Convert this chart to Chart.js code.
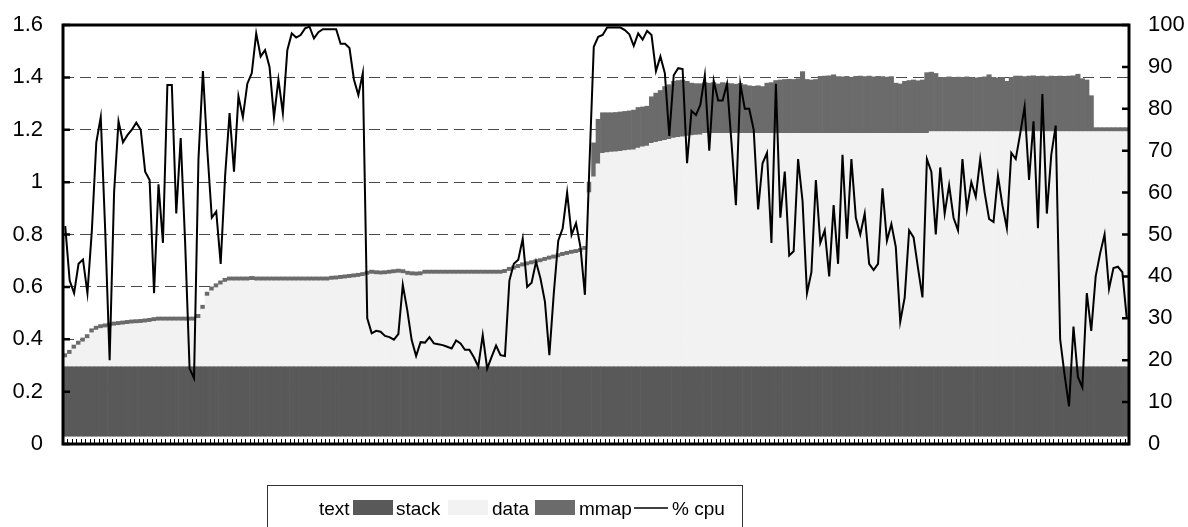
<!DOCTYPE html>
<html>
<head>
<meta charset="utf-8">
<script src="https://cdn.jsdelivr.net/npm/chart.js@4.4.1/dist/chart.umd.min.js"></script>
<style>
    html, body { margin: 0; padding: 0; background: #fff; }
    #wrap { width: 1188px; height: 527px; }
</style>
</head>
<body>
<div id="wrap"><canvas id="memChart" width="1188" height="527"></canvas></div>
<script>
// memory use (MB) per sample, stacked bottom to top
const textMB = [
    0.027, 0.027, 0.027, 0.027, 0.027, 0.027, 0.027, 0.027, 0.027, 0.027, 0.027, 0.027, 0.027, 0.027, 0.027, 0.027, 0.027, 0.027, 0.027, 0.027,
    0.027, 0.027, 0.027, 0.027, 0.027, 0.027, 0.027, 0.027, 0.027, 0.027, 0.027, 0.027, 0.027, 0.027, 0.027, 0.027, 0.027, 0.027, 0.027, 0.027,
    0.027, 0.027, 0.027, 0.027, 0.027, 0.027, 0.027, 0.027, 0.027, 0.027, 0.027, 0.027, 0.027, 0.027, 0.027, 0.027, 0.027, 0.027, 0.027, 0.027,
    0.027, 0.027, 0.027, 0.027, 0.027, 0.027, 0.027, 0.027, 0.027, 0.027, 0.027, 0.027, 0.027, 0.027, 0.027, 0.027, 0.027, 0.027, 0.027, 0.027,
    0.027, 0.027, 0.027, 0.027, 0.027, 0.027, 0.027, 0.027, 0.027, 0.027, 0.027, 0.027, 0.027, 0.027, 0.027, 0.027, 0.027, 0.027, 0.027, 0.027,
    0.027, 0.027, 0.027, 0.027, 0.027, 0.027, 0.027, 0.027, 0.027, 0.027, 0.027, 0.027, 0.027, 0.027, 0.027, 0.027, 0.027, 0.027, 0.027, 0.027,
    0.027, 0.027, 0.027, 0.027, 0.027, 0.027, 0.027, 0.027, 0.027, 0.027, 0.027, 0.027, 0.027, 0.027, 0.027, 0.027, 0.027, 0.027, 0.027, 0.027,
    0.027, 0.027, 0.027, 0.027, 0.027, 0.027, 0.027, 0.027, 0.027, 0.027, 0.027, 0.027, 0.027, 0.027, 0.027, 0.027, 0.027, 0.027, 0.027, 0.027,
    0.027, 0.027, 0.027, 0.027, 0.027, 0.027, 0.027, 0.027, 0.027, 0.027, 0.027, 0.027, 0.027, 0.027, 0.027, 0.027, 0.027, 0.027, 0.027, 0.027,
    0.027, 0.027, 0.027, 0.027, 0.027, 0.027, 0.027, 0.027, 0.027, 0.027, 0.027, 0.027, 0.027, 0.027, 0.027, 0.027, 0.027, 0.027, 0.027, 0.027,
    0.027, 0.027, 0.027, 0.027, 0.027, 0.027, 0.027, 0.027, 0.027, 0.027, 0.027, 0.027, 0.027, 0.027, 0.027, 0.027, 0.027, 0.027, 0.027, 0.027,
    0.027, 0.027, 0.027, 0.027, 0.027, 0.027, 0.027, 0.027, 0.027, 0.027, 0.027, 0.027, 0.027, 0.027, 0.027, 0.027, 0.027, 0.027, 0.027, 0.027,
];

const stackMB = [
    0.268, 0.268, 0.268, 0.268, 0.268, 0.268, 0.268, 0.268, 0.268, 0.268, 0.268, 0.268, 0.268, 0.268, 0.268, 0.268, 0.268, 0.268, 0.268, 0.268,
    0.268, 0.268, 0.268, 0.268, 0.268, 0.268, 0.268, 0.268, 0.268, 0.268, 0.268, 0.268, 0.268, 0.268, 0.268, 0.268, 0.268, 0.268, 0.268, 0.268,
    0.268, 0.268, 0.268, 0.268, 0.268, 0.268, 0.268, 0.268, 0.268, 0.268, 0.268, 0.268, 0.268, 0.268, 0.268, 0.268, 0.268, 0.268, 0.268, 0.268,
    0.268, 0.268, 0.268, 0.268, 0.268, 0.268, 0.268, 0.268, 0.268, 0.268, 0.268, 0.268, 0.268, 0.268, 0.268, 0.268, 0.268, 0.268, 0.268, 0.268,
    0.268, 0.268, 0.268, 0.268, 0.268, 0.268, 0.268, 0.268, 0.268, 0.268, 0.268, 0.268, 0.268, 0.268, 0.268, 0.268, 0.268, 0.268, 0.268, 0.268,
    0.268, 0.268, 0.268, 0.268, 0.268, 0.268, 0.268, 0.268, 0.268, 0.268, 0.268, 0.268, 0.268, 0.268, 0.268, 0.268, 0.268, 0.268, 0.268, 0.268,
    0.268, 0.268, 0.268, 0.268, 0.268, 0.268, 0.268, 0.268, 0.268, 0.268, 0.268, 0.268, 0.268, 0.268, 0.268, 0.268, 0.268, 0.268, 0.268, 0.268,
    0.268, 0.268, 0.268, 0.268, 0.268, 0.268, 0.268, 0.268, 0.268, 0.268, 0.268, 0.268, 0.268, 0.268, 0.268, 0.268, 0.268, 0.268, 0.268, 0.268,
    0.268, 0.268, 0.268, 0.268, 0.268, 0.268, 0.268, 0.268, 0.268, 0.268, 0.268, 0.268, 0.268, 0.268, 0.268, 0.268, 0.268, 0.268, 0.268, 0.268,
    0.268, 0.268, 0.268, 0.268, 0.268, 0.268, 0.268, 0.268, 0.268, 0.268, 0.268, 0.268, 0.268, 0.268, 0.268, 0.268, 0.268, 0.268, 0.268, 0.268,
    0.268, 0.268, 0.268, 0.268, 0.268, 0.268, 0.268, 0.268, 0.268, 0.268, 0.268, 0.268, 0.268, 0.268, 0.268, 0.268, 0.268, 0.268, 0.268, 0.268,
    0.268, 0.268, 0.268, 0.268, 0.268, 0.268, 0.268, 0.268, 0.268, 0.268, 0.268, 0.268, 0.268, 0.268, 0.268, 0.268, 0.268, 0.268, 0.268, 0.268,
];

const dataMB = [
    0.035, 0.048, 0.068, 0.083, 0.095, 0.108, 0.130, 0.140, 0.146, 0.149, 0.152, 0.156, 0.158, 0.160, 0.162, 0.164, 0.165, 0.166, 0.168, 0.170,
    0.173, 0.175, 0.175, 0.175, 0.175, 0.175, 0.175, 0.175, 0.175, 0.175, 0.185, 0.220, 0.270, 0.290, 0.302, 0.313, 0.323, 0.328, 0.328, 0.328,
    0.328, 0.328, 0.330, 0.328, 0.328, 0.328, 0.328, 0.328, 0.328, 0.328, 0.328, 0.328, 0.328, 0.328, 0.328, 0.328, 0.328, 0.328, 0.328, 0.328,
    0.331, 0.332, 0.334, 0.336, 0.338, 0.340, 0.342, 0.345, 0.350, 0.354, 0.352, 0.351, 0.352, 0.354, 0.356, 0.358, 0.356, 0.350, 0.348, 0.347,
    0.348, 0.354, 0.354, 0.354, 0.354, 0.354, 0.354, 0.354, 0.354, 0.354, 0.354, 0.354, 0.354, 0.354, 0.354, 0.354, 0.354, 0.354, 0.354, 0.357,
    0.365, 0.370, 0.376, 0.382, 0.386, 0.390, 0.394, 0.398, 0.403, 0.408, 0.412, 0.417, 0.422, 0.426, 0.430, 0.433, 0.437, 0.445, 0.665, 0.725,
    0.775, 0.815, 0.818, 0.820, 0.821, 0.823, 0.825, 0.827, 0.828, 0.835, 0.840, 0.843, 0.853, 0.857, 0.861, 0.865, 0.868, 0.873, 0.876, 0.878,
    0.881, 0.883, 0.885, 0.886, 0.891, 0.891, 0.891, 0.891, 0.891, 0.891, 0.891, 0.891, 0.891, 0.891, 0.891, 0.891, 0.891, 0.891, 0.891, 0.891,
    0.891, 0.891, 0.891, 0.891, 0.891, 0.891, 0.891, 0.891, 0.891, 0.891, 0.891, 0.891, 0.891, 0.891, 0.891, 0.891, 0.891, 0.891, 0.891, 0.891,
    0.891, 0.891, 0.891, 0.891, 0.891, 0.891, 0.891, 0.891, 0.891, 0.891, 0.891, 0.891, 0.891, 0.891, 0.891, 0.898, 0.898, 0.898, 0.898, 0.898,
    0.898, 0.898, 0.898, 0.898, 0.898, 0.898, 0.898, 0.898, 0.898, 0.898, 0.898, 0.898, 0.898, 0.898, 0.898, 0.898, 0.898, 0.898, 0.898, 0.898,
    0.898, 0.898, 0.898, 0.898, 0.898, 0.898, 0.898, 0.898, 0.898, 0.898, 0.898, 0.898, 0.898, 0.898, 0.898, 0.898, 0.898, 0.898, 0.898, 0.898,
];

const mmapMB = [
    0.015, 0.015, 0.015, 0.015, 0.015, 0.015, 0.015, 0.015, 0.015, 0.015, 0.015, 0.015, 0.015, 0.015, 0.015, 0.015, 0.015, 0.015, 0.015, 0.015,
    0.015, 0.015, 0.015, 0.015, 0.015, 0.015, 0.015, 0.015, 0.015, 0.015, 0.015, 0.015, 0.015, 0.015, 0.015, 0.015, 0.015, 0.015, 0.015, 0.015,
    0.015, 0.015, 0.015, 0.015, 0.015, 0.015, 0.015, 0.015, 0.015, 0.015, 0.015, 0.015, 0.015, 0.015, 0.015, 0.015, 0.015, 0.015, 0.015, 0.015,
    0.015, 0.015, 0.015, 0.015, 0.015, 0.015, 0.015, 0.015, 0.015, 0.015, 0.015, 0.015, 0.015, 0.015, 0.015, 0.015, 0.015, 0.015, 0.015, 0.015,
    0.015, 0.015, 0.015, 0.015, 0.015, 0.015, 0.015, 0.015, 0.015, 0.015, 0.015, 0.015, 0.015, 0.015, 0.015, 0.015, 0.015, 0.015, 0.015, 0.015,
    0.015, 0.015, 0.015, 0.015, 0.015, 0.015, 0.015, 0.015, 0.015, 0.015, 0.015, 0.015, 0.015, 0.015, 0.015, 0.015, 0.015, 0.015, 0.040, 0.130,
    0.170, 0.155, 0.152, 0.150, 0.150, 0.150, 0.150, 0.150, 0.152, 0.155, 0.152, 0.152, 0.178, 0.188, 0.194, 0.205, 0.209, 0.217, 0.217, 0.217,
    0.209, 0.200, 0.196, 0.195, 0.194, 0.192, 0.194, 0.189, 0.194, 0.192, 0.190, 0.188, 0.191, 0.186, 0.182, 0.180, 0.182, 0.179, 0.192, 0.194,
    0.202, 0.204, 0.206, 0.207, 0.206, 0.209, 0.236, 0.206, 0.204, 0.206, 0.218, 0.219, 0.220, 0.224, 0.217, 0.216, 0.218, 0.214, 0.218, 0.219,
    0.217, 0.219, 0.216, 0.218, 0.217, 0.215, 0.217, 0.192, 0.189, 0.199, 0.202, 0.204, 0.201, 0.204, 0.232, 0.227, 0.222, 0.207, 0.207, 0.209,
    0.207, 0.208, 0.207, 0.209, 0.207, 0.205, 0.207, 0.209, 0.217, 0.207, 0.205, 0.207, 0.192, 0.207, 0.212, 0.212, 0.210, 0.212, 0.213, 0.211,
    0.212, 0.210, 0.212, 0.211, 0.212, 0.211, 0.212, 0.213, 0.219, 0.202, 0.197, 0.137, 0.015, 0.015, 0.015, 0.015, 0.015, 0.015, 0.015, 0.015,
];

// % cpu per sample (right axis)
const cpu = [
    52, 39, 36, 43, 44, 36, 51, 72, 78, 51, 20, 60, 77, 72, 73.7, 75, 76.7, 75, 65, 63,
    36, 62, 48, 85.7, 85.7, 55, 73, 48, 18, 15.7, 68, 89, 70, 54, 55.5, 43, 64, 79, 65, 83,
    78, 86, 88.5, 98, 92.5, 94, 90, 78, 87, 79, 94, 98, 97, 97.6, 99.2, 99.6, 96.8, 98.3, 99, 99,
    99, 99, 95.5, 95.5, 94.5, 87, 83.3, 88.5, 30, 26.4, 27, 26.8, 25.8, 25.5, 24.9, 26.2, 38, 32, 24.8, 21,
    24.3, 24.2, 25.5, 24, 23.8, 23.6, 23.2, 22.8, 24.7, 24, 22.5, 22.5, 20.7, 18.5, 26, 18, 20.8, 23.5, 21.2, 21,
    39, 43, 44, 49, 37.5, 38.5, 43.5, 39.5, 34, 21.2, 36, 48.5, 51.5, 60, 49.9, 52.7, 47, 35.6, 66, 94.8,
    97.2, 97.6, 99.4, 99.4, 99.4, 99.4, 98.8, 97.8, 95, 98, 96.5, 98.6, 97.6, 89, 92.5, 88.5, 73.5, 88, 89.7, 89.5,
    67, 79.5, 78.5, 81, 88, 70, 86.7, 82, 82, 86, 72, 57, 86, 80, 80, 75, 56, 67, 69.5, 48,
    86, 54, 65, 45, 46, 68, 58, 36, 41, 63, 48, 51, 40, 57, 43, 69, 49, 68, 54, 50,
    55, 43, 41.5, 43, 61, 48.5, 52.5, 47, 29.2, 35, 51, 49.3, 42, 35, 68, 65, 50, 66, 55, 61.8,
    54, 51, 68, 56, 62.5, 59, 68, 60, 53.7, 53, 64, 57, 51.5, 69.5, 68, 74, 80.5, 63, 77, 51.5,
    83.5, 55, 69, 76, 25, 16.5, 9, 28, 16, 13.5, 36, 27, 40, 45.5, 50, 37, 42, 42.3, 41, 30,
];

const samples = cpu.map((_, i) => String(i + 1));
const memTicks = [0, 0.2, 0.4, 0.6, 0.8, 1, 1.2, 1.4, 1.6];
const cpuTicks = [0, 10, 20, 30, 40, 50, 60, 70, 80, 90, 100];

const FONT = "'Liberation Sans', Arial, Helvetica, sans-serif";

// legend slots taken from the original layout: swatch x, label x
const legendSlots = [
    { sw: 275, lx: 319 },
    { sw: 353, lx: 396 },
    { sw: 448, lx: 492 },
    { sw: 535, lx: 579 },
    { sw: 634, lx: 672 },
];

const framePlugin = {
    id: "frame",
    afterDatasetsDraw(chart) {
        const { ctx, chartArea: a, scales } = chart;
        ctx.save();
        ctx.strokeStyle = "#000";

        // small inward ticks between categories
        const x = scales.x;
        const step = x.getPixelForValue(1) - x.getPixelForValue(0);
        ctx.lineWidth = 1;
        ctx.beginPath();
        for (let i = 0; i <= samples.length; i++) {
            const px = Math.round(x.getPixelForValue(0) - step / 2 + i * step) + 0.5;
            ctx.moveTo(px, a.bottom);
            ctx.lineTo(px, a.bottom - 5);
        }
        ctx.stroke();

        ctx.lineWidth = 2.5;
        ctx.beginPath();
        memTicks.forEach((v) => {
            const py = scales.y.getPixelForValue(v);
            ctx.moveTo(a.left, py);
            ctx.lineTo(a.left + 7, py);
        });
        cpuTicks.forEach((v) => {
            const py = scales.y1.getPixelForValue(v);
            ctx.moveTo(a.right - 7, py);
            ctx.lineTo(a.right, py);
        });
        ctx.stroke();

        ctx.lineWidth = 3;
        ctx.strokeRect(a.left, a.top, a.right - a.left, a.bottom - a.top);
        ctx.restore();
    },
};

const legendPlugin = {
    id: "boxLegend",
    afterDraw(chart) {
        const { ctx } = chart;
        ctx.save();
        ctx.strokeStyle = "#333";
        ctx.lineWidth = 1;
        ctx.strokeRect(267.5, 485.5, 475, 80);

        ctx.font = "19px " + FONT;
        ctx.textBaseline = "alphabetic";
        chart.data.datasets.forEach((ds, i) => {
            const slot = legendSlots[i];
            if (ds.type === "line") {
                ctx.strokeStyle = ds.borderColor;
                ctx.lineWidth = 1.5;
                ctx.beginPath();
                ctx.moveTo(slot.sw, 508);
                ctx.lineTo(slot.sw + 34, 508);
                ctx.stroke();
            } else {
                ctx.fillStyle = ds.backgroundColor;
                ctx.fillRect(slot.sw, 500, 40, 15);
            }
            ctx.fillStyle = "#000";
            ctx.fillText(ds.label, slot.lx, 515);
        });
        ctx.restore();
    },
};

const barDefaults = {
    type: "bar",
    yAxisID: "y",
    borderWidth: 0,
    barPercentage: 1,
    categoryPercentage: 1,
    order: 1,
};

// keep the plot box where the original has it
const noPad = (w) => (s) => {
    s.width = w;
    s.paddingTop = 0;
    s.paddingBottom = 0;
};

const ctx = document.getElementById("memChart").getContext("2d");
new Chart(ctx, {
    data: {
        labels: samples,
        datasets: [
            { ...barDefaults, label: "text", data: textMB, backgroundColor: "#ffffff" },
            { ...barDefaults, label: "stack", data: stackMB, backgroundColor: "#595959" },
            { ...barDefaults, label: "data", data: dataMB, backgroundColor: "#f2f2f2" },
            { ...barDefaults, label: "mmap", data: mmapMB, backgroundColor: "#6b6b6b" },
            {
                type: "line",
                label: "% cpu",
                data: cpu,
                yAxisID: "y1",
                borderColor: "#000000",
                borderWidth: 2,
                pointRadius: 0,
                tension: 0,
                fill: false,
                order: 0,
            },
        ],
    },
    options: {
        responsive: false,
        animation: false,
        devicePixelRatio: 1,
        layout: { padding: { top: 25, left: 0, right: 0, bottom: 0 } },
        plugins: {
            legend: { display: false },
            tooltip: { enabled: false },
        },
        scales: {
            x: {
                type: "category",
                stacked: true,
                offset: true,
                grid: { display: false, drawTicks: false },
                border: { display: false },
                ticks: { display: false },
                afterFit: (s) => {
                    s.height = 83;
                    s.paddingLeft = 0;
                    s.paddingRight = 0;
                },
            },
            y: {
                position: "left",
                stacked: true,
                min: 0,
                max: 1.6,
                afterBuildTicks: (s) => { s.ticks = memTicks.map((v) => ({ value: v })); },
                ticks: {
                    padding: 20,
                    color: "#000",
                    font: { family: FONT, size: 22 },
                    callback: (v) => String(parseFloat(Number(v).toFixed(1))),
                },
                grid: { color: "#4a4a4a", lineWidth: 1, drawTicks: false },
                border: { display: false, dash: [11, 6] },
                afterFit: noPad(63),
            },
            y1: {
                position: "right",
                min: 0,
                max: 100,
                afterBuildTicks: (s) => { s.ticks = cpuTicks.map((v) => ({ value: v })); },
                ticks: {
                    padding: 19,
                    color: "#000",
                    font: { family: FONT, size: 22 },
                },
                grid: { display: false, drawTicks: false },
                border: { display: false },
                afterFit: noPad(59),
            },
        },
    },
    plugins: [framePlugin, legendPlugin],
});
</script>
</body>
</html>
